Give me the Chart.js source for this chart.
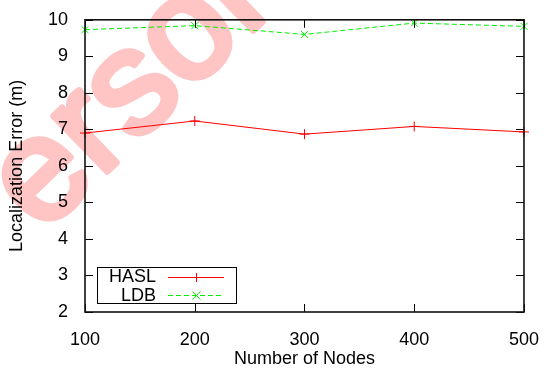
<!DOCTYPE html>
<html><head><meta charset="utf-8">
<script src="https://cdn.jsdelivr.net/npm/chart.js@4"></script>
<style>html,body{margin:0;padding:0;background:#fff}#wrap{width:548px;height:370px}</style>
</head><body><div id="wrap"><canvas id="c" width="548" height="370"></canvas></div>
<script>
const nodes = [100, 200, 300, 400, 500];
const hasl = [6.9, 7.23, 6.87, 7.08, 6.93];
const ldb = [9.73, 9.84, 9.6, 9.91, 9.82];
const yTicks = [2, 3, 4, 5, 6, 7, 8, 9, 10];
const xTicks = [100, 200, 300, 400, 500];
const FONT = '"Liberation Sans", Arial, Helvetica, sans-serif';
const GREEN = '#00f000';
const WATERMARK = 'erson';

const framePlugin = {
  id: 'frame',
  beforeDraw(chart) {
    const ctx = chart.ctx;
    ctx.save();
    ctx.fillStyle = '#fff';
    ctx.fillRect(0, 0, chart.width, chart.height);
    // watermark (beneath everything): size so 'e' and 'o' centres land where they sit in the reference
    ctx.font = '100px ' + FONT;
    const we = ctx.measureText('e').width;
    const wers = ctx.measureText('ers').width;
    const werso = ctx.measureText('erso').width;
    const dist100 = (wers + werso) / 2 - we / 2;
    const E = [43, 178], O = [189, 37];
    const target = Math.hypot(O[0] - E[0], O[1] - E[1]);
    const size = 100 * target / dist100;
    const ang = Math.atan2(O[1] - E[1], O[0] - E[0]);
    ctx.font = size.toFixed(1) + 'px ' + FONT;
    const m = ctx.measureText('e');
    const eCx = m.width / 2, eCy = -m.actualBoundingBoxAscent / 2;
    ctx.translate(E[0], E[1]);
    ctx.rotate(ang);
    ctx.textAlign = 'left';
    ctx.textBaseline = 'alphabetic';
    ctx.fillStyle = '#ffc4c4';
    ctx.strokeStyle = '#ffc4c4';
    ctx.lineWidth = size * 0.045;
    ctx.lineJoin = 'round';
    ctx.fillText(WATERMARK, -eCx, -eCy);
    ctx.strokeText(WATERMARK, -eCx, -eCy);
    ctx.restore();
  },
  afterDraw(chart) {
    const ctx = chart.ctx, a = chart.chartArea;
    const xs = chart.scales.x, ys = chart.scales.y;
    ctx.save();
    ctx.strokeStyle = '#000';
    ctx.lineWidth = 1;
    ctx.beginPath();
    yTicks.forEach(v => {
      const p = Math.round(ys.getPixelForValue(v)) + 0.5;
      ctx.moveTo(a.left, p); ctx.lineTo(a.left + 8, p);
      ctx.moveTo(a.right, p); ctx.lineTo(a.right - 8, p);
    });
    xTicks.forEach(v => {
      const p = Math.round(xs.getPixelForValue(v)) + 0.5;
      ctx.moveTo(p, a.bottom); ctx.lineTo(p, a.bottom - 8);
      ctx.moveTo(p, a.top); ctx.lineTo(p, a.top + 8);
    });
    ctx.stroke();
    ctx.lineWidth = 1.6;
    ctx.strokeStyle = '#111';
    ctx.strokeRect(a.left, a.top, a.right - a.left, a.bottom - a.top);
    // legend
    ctx.lineWidth = 1;
    ctx.strokeStyle = '#000';
    ctx.strokeRect(97.5, 267.5, 139, 36);
    ctx.font = '18px ' + FONT;
    ctx.fillStyle = '#000';
    ctx.textAlign = 'right';
    ctx.textBaseline = 'middle';
    ctx.fillText('HASL', 156, 277);
    ctx.fillText('LDB', 156, 296);
    ctx.strokeStyle = '#ff0000';
    ctx.beginPath(); ctx.moveTo(168, 277.5); ctx.lineTo(224, 277.5); ctx.stroke();
    ctx.beginPath(); ctx.moveTo(196.5, 273); ctx.lineTo(196.5, 282); ctx.moveTo(192, 277.5); ctx.lineTo(201, 277.5); ctx.stroke();
    ctx.strokeStyle = GREEN;
    ctx.setLineDash([5, 3]);
    ctx.beginPath(); ctx.moveTo(168, 295.5); ctx.lineTo(224, 295.5); ctx.stroke();
    ctx.setLineDash([]);
    ctx.beginPath(); ctx.moveTo(192.5, 291.5); ctx.lineTo(200.5, 299.5); ctx.moveTo(200.5, 291.5); ctx.lineTo(192.5, 299.5); ctx.stroke();
    ctx.restore();
  }
};

new Chart(document.getElementById('c'), {
  type: 'line',
  data: {
    datasets: [
      { label: 'HASL', data: nodes.map((x, i) => ({ x, y: hasl[i] })), borderColor: '#ff0000', backgroundColor: '#ff0000',
        borderWidth: 1, pointStyle: 'cross', pointRadius: 5, pointBorderWidth: 1, tension: 0, fill: false, clip: false },
      { label: 'LDB', data: nodes.map((x, i) => ({ x, y: ldb[i] })), borderColor: GREEN, backgroundColor: GREEN,
        borderWidth: 1, borderDash: [5, 3], pointStyle: 'crossRot', pointRadius: 5, pointBorderWidth: 1, tension: 0, fill: false, clip: false }
    ]
  },
  options: {
    responsive: false,
    animation: false,
    events: [],
    layout: { padding: { left: 0, top: 15, right: 22, bottom: 0 } },
    plugins: { legend: { display: false }, tooltip: { enabled: false } },
    scales: {
      x: {
        type: 'linear', min: 100, max: 500,
        afterBuildTicks: s => { s.ticks = xTicks.map(v => ({ value: v })); },
        afterFit: s => { s.height = 58; },
        grid: { display: false }, border: { display: false },
        ticks: { color: '#000', font: { family: FONT, size: 18 }, padding: 9, maxRotation: 0 },
        title: { display: true, text: 'Number of Nodes', color: '#000', font: { family: FONT, size: 18 }, padding: { top: 2, bottom: 0 } }
      },
      y: {
        type: 'linear', min: 2, max: 10,
        afterBuildTicks: s => { s.ticks = yTicks.map(v => ({ value: v })); },
        afterFit: s => { s.width = 85; },
        grid: { display: false }, border: { display: false },
        ticks: { color: '#000', font: { family: FONT, size: 18 }, padding: 9 },
        title: { display: true, text: 'Localization Error (m)', color: '#000', font: { family: FONT, size: 18 }, padding: { top: 6, bottom: 0 } }
      }
    }
  },
  plugins: [framePlugin]
});
</script>
</body></html>
